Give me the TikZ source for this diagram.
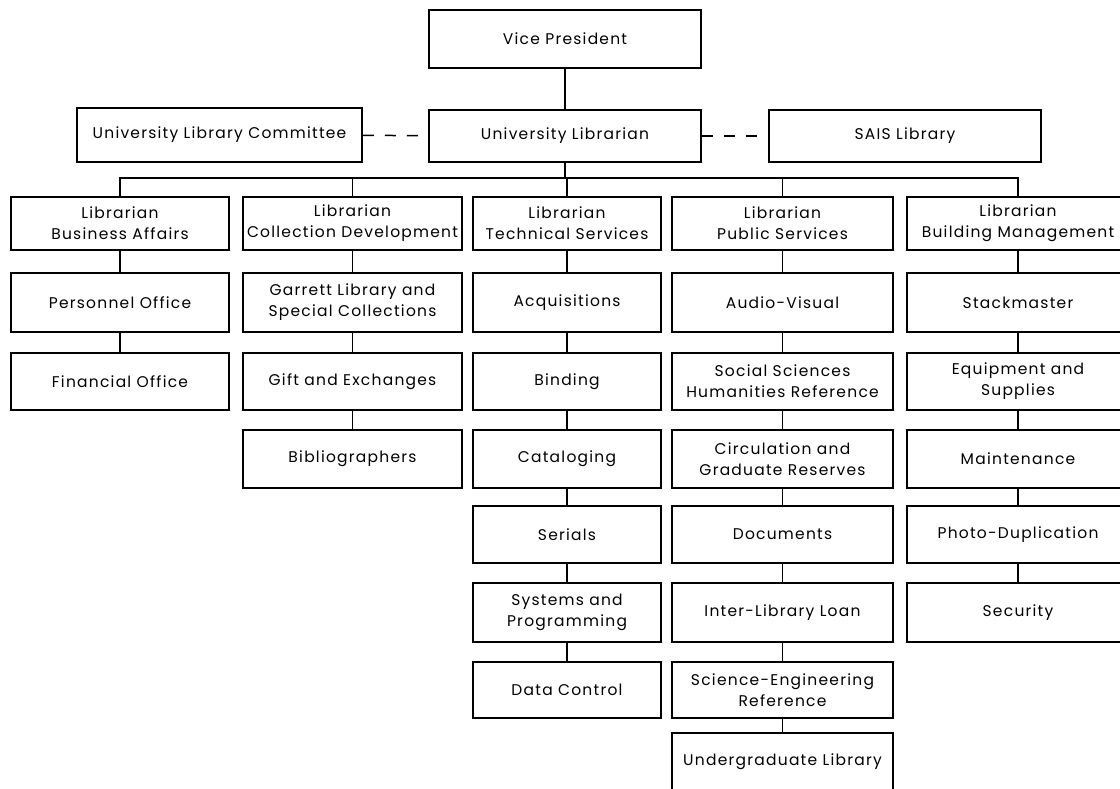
\documentclass[tikz,border=0pt]{standalone}
\usepackage{fontspec}
\setmainfont[LetterSpace=8]{Poppins}
\begin{document}
\begin{tikzpicture}[x=1pt,y=-1pt,
  box/.style={draw, line width=1.5pt, inner sep=0pt, align=center,
    font=\fontsize{15.5}{21}\selectfont},
  link/.style={line width=1.5pt},
  dashlink/.style={line width=1.5pt, dash pattern=on 11pt off 11pt}]
\useasboundingbox[fill=white] (0,0) rectangle (1120,789);
% top
\node[box, minimum width=272pt, minimum height=58pt] (VP) at (565,39) {Vice President};
\node[box, minimum width=272pt, minimum height=52pt] (UL) at (565,136) {University Librarian};
\node[box, minimum width=285pt, minimum height=54pt] (ULC) at (219.5,135) {University Library Committee};
\node[box, minimum width=272pt, minimum height=52pt] (SAIS) at (905,136) {SAIS Library};
% level 2
\node[box, minimum width=218pt, minimum height=53pt] (BA) at (120,223.5) {Librarian\\Business Affairs};
\node[box, minimum width=219pt, minimum height=53pt] (CD) at (352.5,223.5) {Librarian\\Collection Development};
\node[box, minimum width=188pt, minimum height=53pt] (TS) at (567,223.5) {Librarian\\Technical Services};
\node[box, minimum width=221pt, minimum height=53pt] (PS) at (782.5,223.5) {Librarian\\Public Services};
\node[box, minimum width=222pt, minimum height=53pt] (BM) at (1018,223.5) {Librarian\\Building Management};
% column 1
\node[box, minimum width=218pt, minimum height=59pt] (PO) at (120,302.5) {Personnel Office};
\node[box, minimum width=218pt, minimum height=57pt] (FO) at (120,381.5) {Financial Office};
% column 2
\node[box, minimum width=219pt, minimum height=59pt] (GL) at (352.5,302.5) {Garrett Library and\\Special Collections};
\node[box, minimum width=219pt, minimum height=57pt] (GE) at (352.5,381.5) {Gift and Exchanges};
\node[box, minimum width=219pt, minimum height=58pt] (BI) at (352.5,459) {Bibliographers};
% column 3
\node[box, minimum width=188pt, minimum height=59pt] (AQ) at (567,302.5) {Acquisitions};
\node[box, minimum width=188pt, minimum height=57pt] (BN) at (567,381.5) {Binding};
\node[box, minimum width=188pt, minimum height=58pt] (CA) at (567,459) {Cataloging};
\node[box, minimum width=188pt, minimum height=57pt] (SE) at (567,534.5) {Serials};
\node[box, minimum width=188pt, minimum height=59pt] (SP) at (567,612.5) {Systems and\\Programming};
\node[box, minimum width=188pt, minimum height=56pt] (DC) at (567,690) {Data Control};
% column 4
\node[box, minimum width=221pt, minimum height=59pt] (AV) at (782.5,302.5) {Audio-Visual};
\node[box, minimum width=221pt, minimum height=57pt] (SS) at (782.5,381.5) {Social Sciences\\Humanities Reference};
\node[box, minimum width=221pt, minimum height=58pt] (CG) at (782.5,459) {Circulation and\\Graduate Reserves};
\node[box, minimum width=221pt, minimum height=57pt] (DO) at (782.5,534.5) {Documents};
\node[box, minimum width=221pt, minimum height=59pt] (IL) at (782.5,612.5) {Inter-Library Loan};
\node[box, minimum width=221pt, minimum height=56pt] (SC) at (782.5,690) {Science-Engineering\\Reference};
\node[box, minimum width=221pt, minimum height=58pt] (UG) at (782.5,762) {Undergraduate Library};
% column 5
\node[box, minimum width=222pt, minimum height=59pt] (ST) at (1018,302.5) {Stackmaster};
\node[box, minimum width=222pt, minimum height=57pt] (EQ) at (1018,381.5) {Equipment and\\Supplies};
\node[box, minimum width=222pt, minimum height=58pt] (MA) at (1018,459) {Maintenance};
\node[box, minimum width=222pt, minimum height=57pt] (PD) at (1018,534.5) {Photo-Duplication};
\node[box, minimum width=222pt, minimum height=59pt] (SU) at (1018,612.5) {Security};
% connectors
\draw[link] (VP) -- (UL);
\draw[dashlink] (ULC) -- (UL);
\draw[dashlink] (UL) -- (SAIS);
\coordinate (bus) at (0,178);
\draw[link] (UL.south) -- (UL.south |- bus);
\draw[link] (BA.north) -- (BA.north |- bus) -- (BM.north |- bus) -- (BM.north);
\draw[link] (CD.north) -- (CD.north |- bus);
\draw[link] (TS.north) -- (TS.north |- bus);
\draw[link] (PS.north) -- (PS.north |- bus);
\draw[link] (BA) -- (PO);
\draw[link] (PO) -- (FO);
\draw[link] (CD) -- (GL);
\draw[link] (GL) -- (GE);
\draw[link] (GE) -- (BI);
\draw[link] (TS) -- (AQ);
\draw[link] (AQ) -- (BN);
\draw[link] (BN) -- (CA);
\draw[link] (CA) -- (SE);
\draw[link] (SE) -- (SP);
\draw[link] (SP) -- (DC);
\draw[link] (PS) -- (AV);
\draw[link] (AV) -- (SS);
\draw[link] (SS) -- (CG);
\draw[link] (CG) -- (DO);
\draw[link] (DO) -- (IL);
\draw[link] (IL) -- (SC);
\draw[link] (SC) -- (UG);
\draw[link] (BM) -- (ST);
\draw[link] (ST) -- (EQ);
\draw[link] (EQ) -- (MA);
\draw[link] (MA) -- (PD);
\draw[link] (PD) -- (SU);
\end{tikzpicture}
\end{document}
